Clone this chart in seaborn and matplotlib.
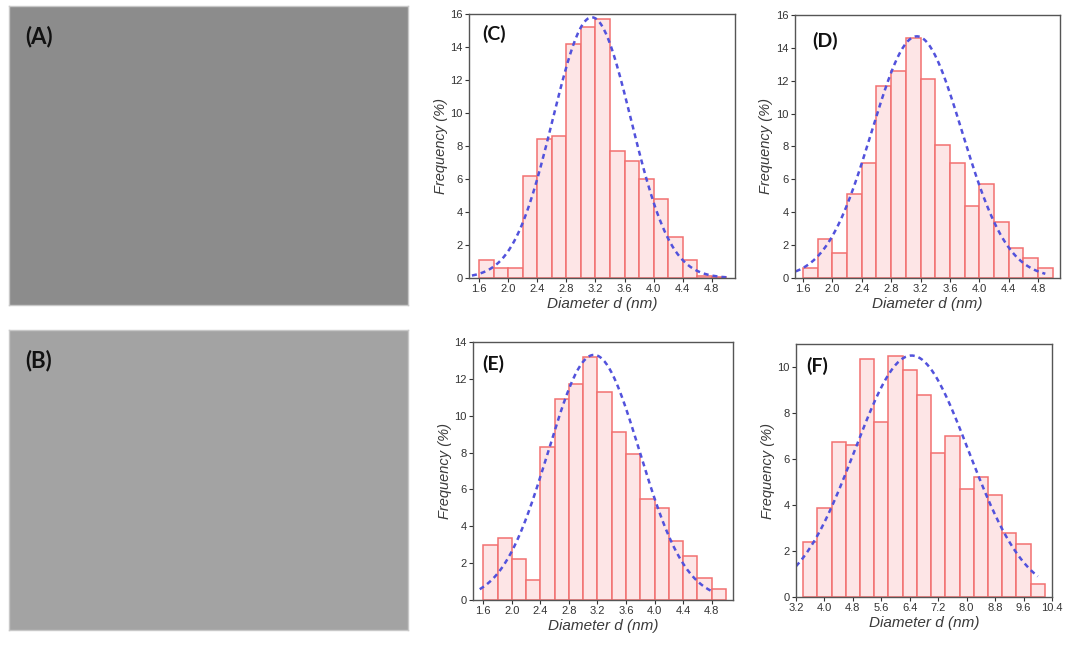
import matplotlib
matplotlib.use("Agg")
import matplotlib.pyplot as plt
import seaborn as sns
import numpy as np
import pandas as pd

# histogram bins (nm) and frequencies (%)
edges_c = np.round(np.arange(1.6, 5.01, 0.2), 2)
freq_c = [1.1, 0.6, 0.6, 6.2, 8.4, 8.6, 14.2, 15.2, 15.7, 7.7, 7.1, 6.0, 4.8, 2.5, 1.1, 0.1, 0.05]

edges_d = np.round(np.arange(1.6, 5.01, 0.2), 2)
freq_d = [0.6, 2.4, 1.5, 5.1, 7.0, 11.7, 12.6, 14.6, 12.1, 8.1, 7.0, 4.4, 5.7, 3.4, 1.8, 1.2, 0.6]

edges_e = np.round(np.arange(1.6, 5.01, 0.2), 2)
freq_e = [3.0, 3.35, 2.2, 1.1, 8.3, 10.9, 11.7, 13.2, 11.3, 9.1, 7.9, 5.5, 5.0, 3.2, 2.4, 1.2, 0.6]

edges_f = np.round(np.arange(3.4, 10.21, 0.4), 2)
freq_f = [2.4, 3.85, 6.75, 6.6, 10.35, 7.6, 10.5, 9.85, 8.8, 6.25, 7.0, 4.7, 5.2, 4.45, 2.8, 2.3, 0.55]

# gaussian fit parameters: centre, width, peak height, drawn range
fit_c = (3.15, 0.54, 15.8, 1.5, 5.0)
fit_d = (3.15, 0.615, 14.7, 1.5, 4.9)
fit_e = (3.15, 0.64, 13.3, 1.55, 4.8)
fit_f = (6.45, 1.6, 10.5, 3.2, 10.0)

panel_labels = ["(C)", "(D)", "(E)", "(F)"]
xlims = [(1.46, 5.12), (1.49, 5.10), (1.456, 5.10), (3.2, 10.4)]
ylims = [16, 16, 14, 11]
xtick_steps = [0.4, 0.4, 0.4, 0.8]
xtick_starts = [1.6, 1.6, 1.6, 3.2]
xtick_ends = [4.8, 4.8, 4.8, 10.4]

sns.set_style("ticks")
plt.rcParams["font.family"] = ["Liberation Sans", "DejaVu Sans"]

fig = plt.figure(figsize=(10.79, 6.48), dpi=100)

# TEM micrograph panels (plain grey stand-ins)
img_boxes = [[0.0083, 0.5293, 0.3698, 0.4614], [0.0083, 0.0278, 0.3698, 0.4630]]
img_colors = ["#8c8c8c", "#a3a3a3"]
for box, col, lab in zip(img_boxes, img_colors, ["(A)", "(B)"]):
    ax = fig.add_axes(box)
    ax.set_facecolor(col)
    ax.set_xticks([])
    ax.set_yticks([])
    for s in ax.spines.values():
        s.set_color("#c8c8c8")
        s.set_linewidth(1)
    ax.text(0.04, 0.935, lab, transform=ax.transAxes, ha="left", va="top",
            fontsize=16, fontweight="bold", family=["Lato", "DejaVu Sans"], color="#111111")

hist_boxes = [[0.4347, 0.571, 0.2465, 0.4074],
              [0.7368, 0.571, 0.2456, 0.4059],
              [0.4384, 0.0741, 0.2410, 0.3981],
              [0.7377, 0.0787, 0.2373, 0.3904]]
label_pos = [(0.05, 0.96), (0.064, 0.935), (0.035, 0.95), (0.04, 0.95)]

data = [(edges_c, freq_c, fit_c), (edges_d, freq_d, fit_d),
        (edges_e, freq_e, fit_e), (edges_f, freq_f, fit_f)]

for i, (edges, freq, fit) in enumerate(data):
    ax = fig.add_axes(hist_boxes[i])
    width = edges[1] - edges[0]
    df = pd.DataFrame({"d": edges[:-1] + width / 2, "freq": freq})
    sns.histplot(data=df, x="d", weights="freq", bins=list(edges), ax=ax,
                 color="#fde5e6", edgecolor="#f27070", linewidth=1.1, alpha=1)
    mu, sig, peak, x0, x1 = fit
    xs = np.linspace(x0, x1, 200)
    ys = peak * np.exp(-(xs - mu) ** 2 / (2 * sig ** 2))
    sns.lineplot(x=xs, y=ys, ax=ax, color="#5252dc", linewidth=1.8,
                 linestyle=(0, (2.0, 1.6)))
    ax.set_xlim(*xlims[i])
    ax.set_ylim(0, ylims[i])
    ax.set_xticks(np.round(np.arange(xtick_starts[i], xtick_ends[i] + 0.01, xtick_steps[i]), 1))
    ax.set_yticks(np.arange(0, ylims[i] + 0.1, 2))
    ax.tick_params(axis="both", labelsize=8, colors="#333333", length=3, width=0.8, pad=1.5)
    for s in ax.spines.values():
        s.set_visible(True)
        s.set_color("#555555")
        s.set_linewidth(1.0)
    ax.set_xlabel("Diameter d (nm)", fontsize=11, style="italic", color="#3a3a3a", labelpad=2)
    ax.set_ylabel("Frequency (%)", fontsize=10.5, style="italic", color="#3a3a3a", labelpad=2)
    lx, ly = label_pos[i]
    ax.text(lx, ly, panel_labels[i], transform=ax.transAxes, ha="left", va="top",
            fontsize=14, fontweight="bold", family=["Lato", "DejaVu Sans"], color="#111111")

fig.savefig("out.png", dpi=100)
